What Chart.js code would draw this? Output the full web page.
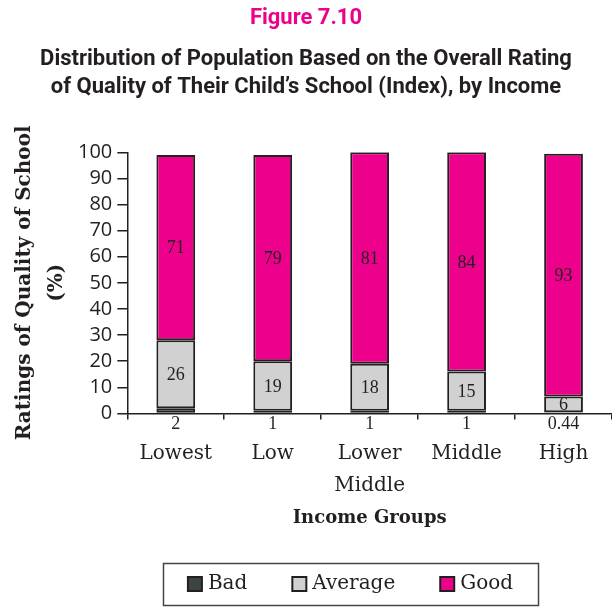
<!DOCTYPE html>
<html>
<head>
<meta charset="utf-8">
<script src="https://cdn.jsdelivr.net/npm/chart.js@4"></script>
<style>
  html, body { margin: 0; padding: 0; background: #fff; }
  #wrap { width: 612px; height: 607px; }
</style>
</head>
<body>
<div id="wrap"><canvas id="grafico" width="612" height="607"></canvas></div>
<script>
// dados
var categorias = ["Lowest", "Low", ["Lower", "Middle"], "Middle", "High"];
var valoresBad = [2, 1, 1, 1, 0.44];
var valoresAverage = [26, 19, 18, 15, 6];
var valoresGood = [71, 79, 81, 84, 93];
var ticksY = [0, 10, 20, 30, 40, 50, 60, 70, 80, 90, 100];

var corTexto = "#231f20";
var corBorda = "#231f20";

// rótulos dentro das barras e o "Bad" embaixo do eixo
var pluginRotulos = {
  id: "rotulos",
  afterDatasetsDraw: function (chart) {
    var ctx = chart.ctx;
    ctx.save();
    ctx.fillStyle = corTexto;
    ctx.font = "18px 'Liberation Serif'";
    ctx.textAlign = "center";
    ctx.textBaseline = "middle";
    chart.data.datasets.forEach(function (ds, i) {
      var meta = chart.getDatasetMeta(i);
      meta.data.forEach(function (bar, j) {
        var txt = String(ds.data[j]);
        if (i === 0) {
          ctx.fillText(txt, bar.x, chart.chartArea.bottom + 11);
        } else {
          ctx.fillText(txt, bar.x, (bar.y + bar.base) / 2 + 1);
        }
      });
    });
    ctx.restore();
  }
};

// legenda com moldura
var pluginLegenda = {
  id: "legendaCaixa",
  afterDraw: function (chart) {
    var ctx = chart.ctx;
    var ds = chart.data.datasets;
    var box = 14, gapTexto = 6, gapItem = 45;
    ctx.save();
    ctx.font = "20px 'DejaVu Serif'";
    var larguras = ds.map(function (d) { return ctx.measureText(d.label).width; });
    var total = 0;
    larguras.forEach(function (w, i) { total += box + gapTexto + w + (i < larguras.length - 1 ? gapItem : 0); });
    var cx = 350.5, cy = 584;
    var x = cx - total / 2;
    ctx.strokeStyle = "#444";
    ctx.lineWidth = 1.5;
    ctx.strokeRect(163.5, 563.5, 375, 42);
    ds.forEach(function (d, i) {
      ctx.fillStyle = d.backgroundColor;
      ctx.fillRect(x, cy - box / 2, box, box);
      ctx.strokeStyle = corBorda;
      ctx.lineWidth = 2;
      ctx.strokeRect(x, cy - box / 2, box, box);
      ctx.fillStyle = corTexto;
      ctx.textAlign = "left";
      ctx.textBaseline = "middle";
      ctx.fillText(d.label, x + box + gapTexto, cy);
      x += box + gapTexto + larguras[i] + gapItem;
    });
    ctx.restore();
  }
};

var ctxBarra = document.getElementById("grafico");

new Chart(ctxBarra, {
  type: "bar",
  data: {
    labels: categorias,
    datasets: [
      { label: "Bad", data: valoresBad, backgroundColor: "#3b4441" },
      { label: "Average", data: valoresAverage, backgroundColor: "#d1d1d1" },
      { label: "Good", data: valoresGood, backgroundColor: "#ec008c" }
    ]
  },
  options: {
    responsive: false,
    animation: false,
    layout: { padding: { left: 0, right: 0, top: 0, bottom: 78 } },
    datasets: {
      bar: {
        borderColor: corBorda,
        borderWidth: 2,
        borderSkipped: false,
        categoryPercentage: 1,
        barPercentage: 0.4
      }
    },
    plugins: {
      legend: { display: false },
      tooltip: { enabled: false },
      title: {
        display: true,
        text: "Figure 7.10",
        color: "#ec008c",
        font: { family: "Roboto", weight: "bold", size: 22, lineHeight: 1.2 },
        padding: { top: 5, bottom: 0 }
      },
      subtitle: {
        display: true,
        text: [
          "Distribution of Population Based on the Overall Rating",
          "of Quality of Their Child\u2019s School (Index), by Income"
        ],
        color: corTexto,
        font: { family: "Roboto", weight: "bold", size: 22, lineHeight: 1.27 },
        padding: { top: 14, bottom: 51 }
      }
    },
    scales: {
      x: {
        stacked: true,
        grid: {
          offset: true,
          drawOnChartArea: false,
          drawTicks: true,
          tickLength: 6,
          color: corBorda,
          lineWidth: 1.5
        },
        border: { color: corBorda, width: 1.5 },
        ticks: {
          color: corTexto,
          font: { family: "DejaVu Serif", size: 20, lineHeight: 1.6 },
          padding: 18,
          maxRotation: 0,
          autoSkip: false
        },
        title: {
          display: true,
          text: "Income Groups",
          color: corTexto,
          font: { family: "DejaVu Serif", weight: "bold", size: 18, lineHeight: 1.2 },
          padding: { top: -12, bottom: 0 }
        }
      },
      y: {
        stacked: true,
        min: 0,
        max: 100,
        afterBuildTicks: function (axis) {
          axis.ticks = ticksY.map(function (v) { return { value: v }; });
        },
        grid: {
          drawOnChartArea: false,
          drawTicks: true,
          tickLength: 10,
          color: corBorda,
          lineWidth: 1.5
        },
        border: { color: corBorda, width: 1.5 },
        ticks: {
          color: corTexto,
          font: { family: "Open Sans", size: 20 },
          padding: 5,
          autoSkip: false
        },
        title: {
          display: true,
          text: ["Ratings of Quality of School", "(%)"],
          color: corTexto,
          font: { family: "DejaVu Serif", weight: "bold", size: 20, lineHeight: 1.6 },
          padding: { top: 9, bottom: 0 }
        }
      }
    }
  },
  plugins: [pluginRotulos, pluginLegenda]
});
</script>
</body>
</html>
